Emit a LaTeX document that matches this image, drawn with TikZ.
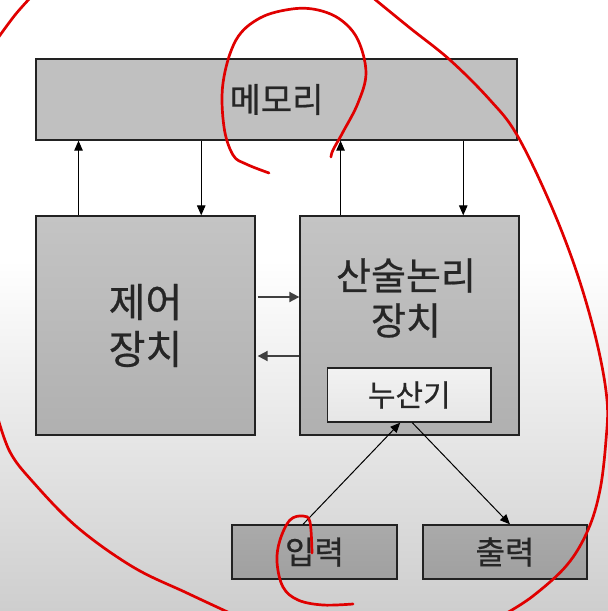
\documentclass[tikz,border=0pt]{standalone}
\usepackage{fontspec}
\newfontfamily\kr[FakeBold=0.6]{Noto Sans CJK KR}
\usetikzlibrary{arrows.meta,calc}
\definecolor{txt}{HTML}{262626}
\definecolor{edge}{HTML}{222222}
\definecolor{pen}{HTML}{E00000}
\begin{document}
\begin{tikzpicture}[x=1pt,y=-1pt,
  blk/.style={draw=edge,line width=1.3pt,rectangle,inner sep=0pt,text=txt,font=\kr,align=center},
  arr/.style={draw=black,line width=1pt,-{Triangle[length=10pt,width=8.5pt]}},
  harr/.style={draw=black!75,line width=1.8pt,-{Triangle[length=10pt,width=10pt]}},
  redpen/.style={draw=pen,line width=2.7pt,line cap=round,line join=round}]
\useasboundingbox (0,0) rectangle (608,611);
\begin{scope}
\clip (0,0) rectangle (608,611);
\fill[white] (0,0) rectangle (608,611);
\shade[top color=white,bottom color={rgb,255:red,206;green,206;blue,206}] (0,260) rectangle (608,611);
\end{scope}
% blocks
\node[blk,fill={rgb,255:red,192;green,192;blue,192},minimum width=481pt,minimum height=81pt,font=\kr\fontsize{34}{40}\selectfont] (mem) at (276.5,99.5) {메모리};
\node[blk,top color={rgb,255:red,196;green,196;blue,196},bottom color={rgb,255:red,176;green,176;blue,176},minimum width=219pt,minimum height=219pt,font=\kr\fontsize{40}{47}\selectfont] (ctrl) at (145.5,325.5) {제어\\장치};
\node[blk,top color={rgb,255:red,196;green,196;blue,196},bottom color={rgb,255:red,176;green,176;blue,176},minimum width=219pt,minimum height=219pt] (alu) at (409.5,325.5) {};
\node[text=txt,font=\kr\fontsize{38}{45}\selectfont,align=center,inner sep=0pt] (alut) at (406,298) {산술논리\\장치};
\node[blk,top color={rgb,255:red,242;green,242;blue,242},bottom color={rgb,255:red,230;green,230;blue,230},minimum width=163.5pt,minimum height=54pt,font=\kr\fontsize{30}{35}\selectfont] (acc) at (409.25,395) {누산기};
\node[blk,top color={rgb,255:red,170;green,170;blue,170},bottom color={rgb,255:red,160;green,160;blue,160},minimum width=165pt,minimum height=54pt,font=\kr\fontsize{32}{37}\selectfont] (inp) at (314.5,552) {입력};
\node[blk,top color={rgb,255:red,170;green,170;blue,170},bottom color={rgb,255:red,160;green,160;blue,160},minimum width=164pt,minimum height=54pt,font=\kr\fontsize{32}{37}\selectfont] (out) at (505,552) {출력};
% vertical arrows
\coordinate (c1) at ($(ctrl.north west)!0.196!(ctrl.north east)$);
\coordinate (c2) at ($(ctrl.north west)!0.753!(ctrl.north east)$);
\coordinate (a1) at ($(alu.north west)!0.187!(alu.north east)$);
\coordinate (a2) at ($(alu.north west)!0.744!(alu.north east)$);
\draw[arr] (c1) -- (c1 |- mem.south);
\draw[arr] (c2 |- mem.south) -- (c2);
\draw[arr] (a1) -- (a1 |- mem.south);
\draw[arr] (a2 |- mem.south) -- (a2);
% horizontal arrows
\coordinate (h1) at ($(ctrl.east)+(2,-28.5)$);
\coordinate (h2) at ($(ctrl.east)+(2,30.5)$);
\draw[harr] (h1) -- (h1 -| alu.west);
\draw[harr] (h2 -| alu.west) -- (h2);
% diagonal arrows
\draw[arr] ($(inp.north)+(-11.5,0)$) -- ($(acc.south)+(-9,0)$);
\draw[arr] ($(acc.south)+(3,0)$) -- ($(out.north)+(5,0)$);
% red hand-drawn marks
\begin{scope}
\clip (0,0) rectangle (608,611);
\draw[redpen] plot[smooth,tension=0.6] coordinates {(372,-3) (410,28) (450,60) (490,100) (517,135) (550,203) (577,273) (597,343) (607,400) (606,440) (600,490) (588,530) (567,565) (533,596) (505,614)};
\draw[redpen] plot[smooth,tension=0.6] coordinates {(269,173) (246,164) (233,155) (224,127) (223,83) (236,40) (260,18) (292,9) (318,10) (341,20) (358,40) (366,73) (358,103) (343,132) (333,150) (331,157)};
\draw[redpen] plot[smooth,tension=0.6] coordinates {(312,553) (310,522) (303,516) (290,520) (280,540) (277,562) (283,587) (298,600) (323,605) (353,604)};
\draw[redpen] plot[smooth,tension=0.6] coordinates {(31,-3) (15,15) (-2,38)};
\draw[redpen] plot[smooth,tension=0.6] coordinates {(-3,415) (10,452) (33,482) (77,527) (133,567) (187,593) (232,614)};
\end{scope}
\end{tikzpicture}
\end{document}
